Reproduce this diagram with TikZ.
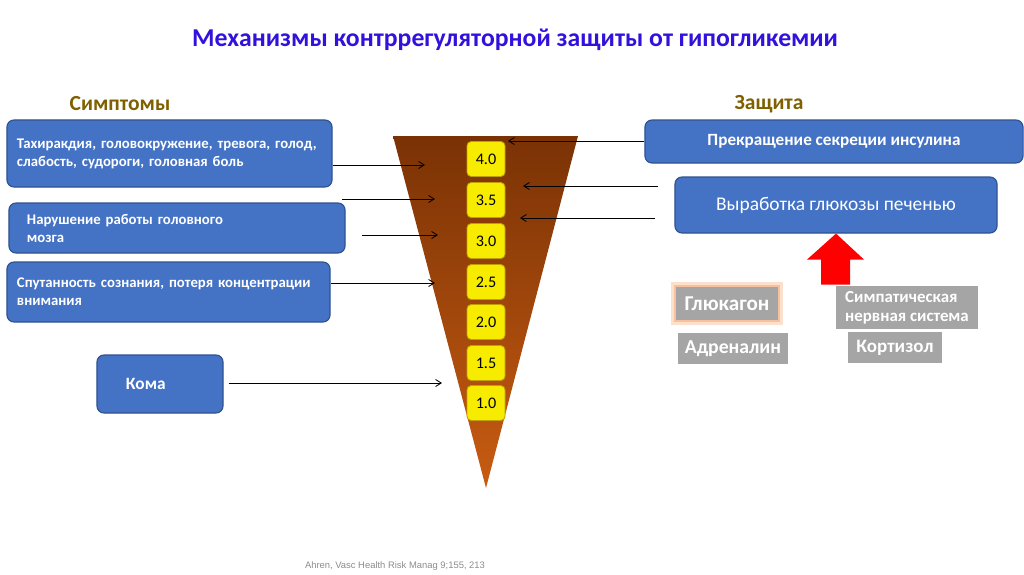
\documentclass[tikz,border=0pt]{standalone}
\usepackage{fontspec}
\setmainfont{Carlito}
\newfontfamily\refsfont{Liberation Sans}
\usepackage{tikz}
\usepackage{xcolor}
\usetikzlibrary{arrows.meta,positioning,calc}
\definecolor{TitleBlue}{HTML}{3311DD}
\definecolor{Olive}{HTML}{7F6000}
\definecolor{BoxBlue}{HTML}{4472C4}
\definecolor{BoxEdge}{HTML}{2F528F}
\definecolor{FunnelTop}{HTML}{7A3205}
\definecolor{FunnelMid}{HTML}{BF560F}
\definecolor{FunnelLow}{HTML}{C85C12}
\definecolor{LevelYellow}{HTML}{F7EC00}
\definecolor{LevelEdge}{HTML}{BFA100}
\definecolor{HormGray}{HTML}{A5A5A5}
\definecolor{GlowOrange}{HTML}{F4B183}
\definecolor{RefGray}{HTML}{8C8C8C}
\tikzset{
    every node/.style={font=\small},
    symbox/.style={
        draw=BoxEdge, fill=BoxBlue, thick,
        rounded corners=5pt, align=left,
        text=white, font=\fontsize{10.5}{12.8}\selectfont\bfseries,
        inner ysep=0pt
    },
    defbox/.style={
        draw=BoxEdge, fill=BoxBlue, thick,
        rounded corners=5pt, align=center,
        text=white, inner sep=0pt
    },
    levelbox/.style={
        draw=LevelEdge, fill=LevelYellow, semithick,
        rounded corners=3pt, minimum width=0.95cm, minimum height=0.875cm,
        font=\fontsize{11.5}{13}\selectfont, inner sep=0pt
    },
    hormbox/.style={
        fill=HormGray, sharp corners, inner sep=0pt,
        text=white, font=\fontsize{14}{16}\selectfont\bfseries
    },
    glowbox/.style={
        preaction={draw=GlowOrange!40, line width=7pt, rounded corners=4pt},
        preaction={draw=GlowOrange!80, line width=3pt}
    },
    symarrow/.style={
        -{Straight Barb[length=4pt,width=5pt]}, line width=0.6pt, black
    },
}

\begin{document}
\begin{tikzpicture}[x=0.025cm, y=-0.025cm]
    \useasboundingbox (0,0) rectangle (1024,574);

    % Titles
    \node[font=\fontsize{18.3}{21}\selectfont\bfseries, text=TitleBlue] (title) at (515,40)
        {Механизмы контррегуляторной защиты от гипогликемии};
    \node[font=\fontsize{15.3}{18}\selectfont\bfseries, text=Olive] (symhead) at (120,104) {Симптомы};
    \node[font=\fontsize{15.3}{18}\selectfont\bfseries, text=Olive] (defhead) at (769,104) {Защита};

    % Funnel
    \coordinate (ftl) at (393,136);
    \coordinate (ftr) at (578,136);
    \coordinate (fbot) at (486,488);
    \shade[top color=FunnelTop, middle color=FunnelMid, bottom color=FunnelLow]
        (ftl) -- (ftr) -- (fbot) -- cycle;

    % Glucose levels
    \node[levelbox] (l40) at (486,159) {4.0};
    \node[levelbox] (l35) at (486,200) {3.5};
    \node[levelbox] (l30) at (486,241) {3.0};
    \node[levelbox] (l25) at (486,282) {2.5};
    \node[levelbox] (l20) at (486,322) {2.0};
    \node[levelbox] (l15) at (486,363) {1.5};
    \node[levelbox] (l10) at (486,403) {1.0};

    % Symptoms
    \node[symbox, text width=7.625cm, inner xsep=0.25cm, minimum height=1.675cm] (tachy) at (169.5,153.5)
        {Тахиракдия, головокружение, тревога, голод,\\слабость, судороги, головная боль};
    \node[symbox, text width=7.5cm, inner xsep=0.45cm, minimum height=1.25cm] (brain) at (177,228)
        {Нарушение работы головного\\мозга};
    \node[symbox, text width=7.575cm, inner xsep=0.25cm, minimum height=1.5cm] (confus) at (168.5,292)
        {Спутанность сознания, потеря концентрации\\внимания};
    \node[symbox, text width=1.7cm, inner xsep=0.725cm, minimum height=1.45cm,
        font=\fontsize{12.3}{14}\selectfont\bfseries] (coma) at (160,384) {Кома};

    % Defence
    \node[defbox, minimum width=9.45cm, minimum height=1.075cm,
        font=\fontsize{12.2}{14}\selectfont\bfseries] (insulin) at (834,141.5)
        {Прекращение секреции инсулина};
    \node[defbox, minimum width=8.05cm, minimum height=1.4cm,
        font=\fontsize{13.8}{16}\selectfont] (liver) at (836,205)
        {Выработка глюкозы печенью};

    % Hormones
    \node[hormbox, glowbox, minimum width=2.55cm, minimum height=0.825cm,
        font=\fontsize{15}{17}\selectfont\bfseries] (glucagon) at (727,303.5) {Глюкагон};
    \node[hormbox, minimum width=2.75cm, minimum height=0.775cm] (adren) at (733,348.5) {Адреналин};
    \node[hormbox, minimum width=3.55cm, minimum height=1.075cm, align=left,
        font=\fontsize{12}{13.5}\selectfont\bfseries] (sympath) at (907,307.5)
        {Симпатическая\\нервная система};
    \node[hormbox, minimum width=2.35cm, minimum height=0.775cm,
        font=\fontsize{13.5}{16}\selectfont\bfseries] (cortisol) at (895,347.5) {Кортизол};

    % Block arrow up to the liver
    \fill[red] (liver.south) -- ++(28,26) -- ++(-14,0) -- ++(0,25) -- ++(-29,0)
        -- ++(0,-25) -- ++(-14,0) -- cycle;

    % Arrow ends
    \coordinate (s1) at (425,165);
    \coordinate (s2a) at (342,199);
    \coordinate (s2) at (435,199);
    \coordinate (s3a) at (362,235);
    \coordinate (s3) at (438,235);
    \coordinate (s4) at (435,283);
    \coordinate (s5) at (442,383);
    \coordinate (d1) at (508,141);
    \coordinate (d2a) at (658,186);
    \coordinate (d2) at (523,186);
    \coordinate (d3a) at (655,218);
    \coordinate (d3) at (520,218);

    % Arrows
    \draw[symarrow] (tachy.east |- s1) -- (s1);
    \draw[symarrow] (s2a) -- (s2);
    \draw[symarrow] (s3a) -- (s3);
    \draw[symarrow] (confus.east |- s4) -- (s4);
    \draw[symarrow] ([xshift=0.125cm]coma.east |- s5) -- (s5);
    \draw[symarrow] (insulin.west |- d1) -- (d1);
    \draw[symarrow] (d2a) -- (d2);
    \draw[symarrow] (d3a) -- (d3);

    % Reference
    \node[font=\refsfont\fontsize{6.7}{8}\selectfont, text=RefGray] (ref) at (395,566)
        {Ahren, Vasc Health Risk Manag 9;155, 213};
\end{tikzpicture}
\end{document}
